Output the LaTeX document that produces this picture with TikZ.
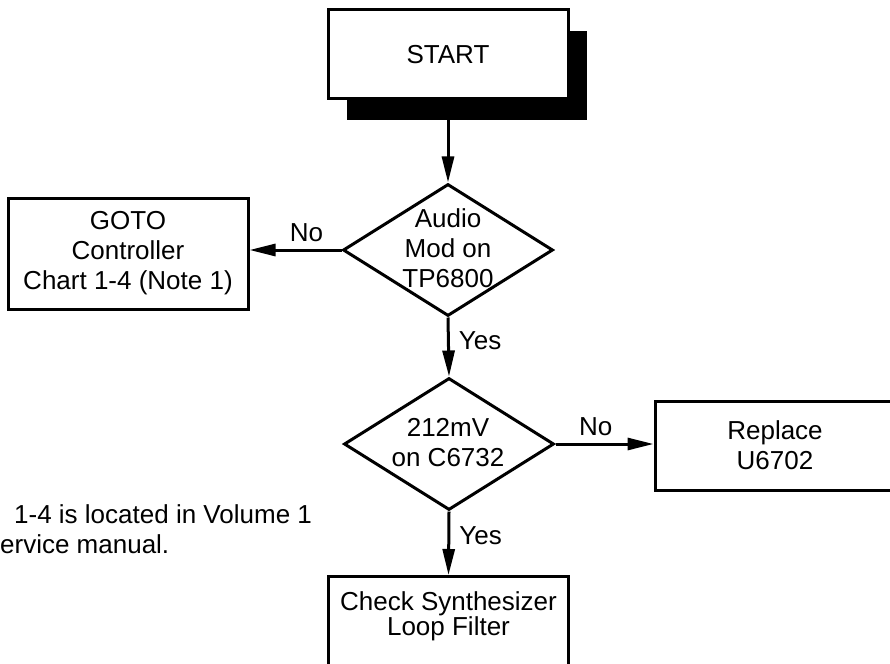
\documentclass[tikz,border=0pt]{standalone}
\usepackage{fontspec}
\setmainfont{Liberation Sans}
\usetikzlibrary{shapes.geometric,arrows.meta,shadows,positioning}

\tikzset{
  box/.style={rectangle, draw, line width=3pt, minimum width=240pt, minimum height=89pt, inner sep=0pt, align=center, font=\fontsize{26}{30}\selectfont},
  decision/.style={diamond, draw, line width=3pt, minimum width=210pt, minimum height=132pt, inner sep=0pt},
  txt/.style={inner sep=0pt, align=center, font=\fontsize{26}{30}\selectfont},
  lbl/.style={inner sep=0pt, font=\fontsize{26}{30}\selectfont},
  flow/.style={line width=3pt, -{Triangle[length=26pt,width=12pt]}}
}

\begin{document}
\begin{tikzpicture}[x=1pt, y=-1pt]
    \useasboundingbox (0,0) rectangle (890,663);
    \clip (0,0) rectangle (890,663);

    % Start
    \node[box, fill=white, drop shadow={opacity=1, fill=black, shadow xshift=19pt, shadow yshift=-21pt}] (start) at (448,54.5) {START};

    % Decisions
    \node[decision] (audio) at (448,250) {};
    \node[txt] (audiotxt) at (448,248) {Audio\\Mod on\\TP6800};

    \node[decision] (c6732) at (449,444) {};
    \node[txt] (c6732txt) at (448,443) {212mV\\on C6732};

    % Results
    \node[box, minimum height=111pt] (goto) at (128,253.5) {GOTO\\Controller\\Chart 1-4 (Note 1)};
    \node[box] (replace) at (775,445.5) {Replace\\U6702};
    \node[box, minimum height=100pt, anchor=north] (check) at (448.5,575) {};
    \node[txt, font=\fontsize{26}{24}\selectfont] (checktxt) at (448.5,616) {Check Synthesizer\\Loop Filter};

    % Note
    \node[lbl, anchor=west] (note1) at (14,514) {1-4 is located in Volume 1};
    \node[lbl, anchor=west] (note2) at (0,544) {ervice manual.};

    % Connectors
    \draw[flow] (start.south) -- (audio.north);
    \draw[flow] (audio.west) -- node[lbl, pos=0.38, above=7pt] (noa) {No} (audio.west -| goto.east);
    \draw[flow] (audio.south) -- node[lbl, pos=0.4, right=9pt] (yesa) {Yes} (c6732.north);
    \draw[flow] (c6732.east) -- node[lbl, pos=0.41, above=7pt] (nob) {No} (c6732.east -| replace.west);
    \draw[flow] (c6732.south) -- node[lbl, pos=0.38, right=9pt] (yesb) {Yes} (check.north);
\end{tikzpicture}
\end{document}
